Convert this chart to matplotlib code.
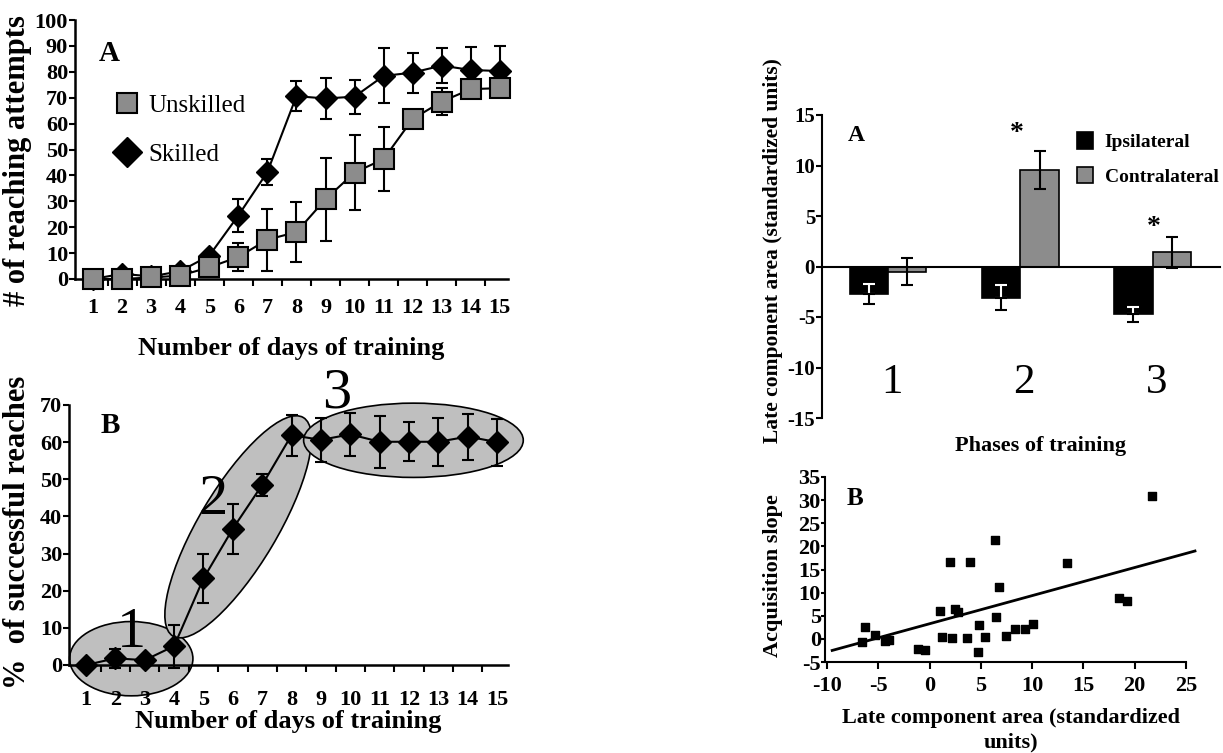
import numpy as np
import matplotlib
matplotlib.use('Agg')
import matplotlib.pyplot as plt
from matplotlib.patches import Ellipse
from matplotlib.transforms import Affine2D
from matplotlib.lines import Line2D

plt.rcParams['font.family'] = ['Liberation Serif', 'DejaVu Serif']
plt.rcParams['font.weight'] = 'bold'
plt.rcParams['axes.labelweight'] = 'bold'
plt.rcParams['axes.unicode_minus'] = False

# ---- data ----
days = np.arange(1, 16)
skilled = [0, 2, 1, 3, 9, 24.5, 41.3, 70.6, 69.7, 70.4, 78.4, 79.7, 82.4, 80.7, 80.3]
skilled_err = [0, 1, 0.5, 1, 1, 6.3, 5, 5.7, 8, 6.6, 10.6, 7.7, 6.8, 9, 9.7]
unskilled = [0, 0, 0.6, 1.3, 4.5, 8.5, 15.2, 18.1, 30.8, 41.1, 46.3, 61.8, 68.5, 73.3, 73.7]
unskilled_err = [0, 0, 0, 0, 0, 5.4, 12, 11.7, 16, 14.6, 12.3, 2, 5.3, 3.5, 2]

success = [0, 1.8, 1.3, 5.1, 23.3, 36.7, 48.5, 61.9, 60.6, 62.1, 60.1, 60.1, 60.1, 61.5, 60.0]
success_err = [0, 2.5, 1, 5.8, 6.6, 6.7, 3, 5.5, 6, 5.8, 7, 5.3, 6.4, 6.2, 6.3]

phases = [1, 2, 3]
ipsi = [-2.75, -3.1, -4.75]
ipsi_err = [1.0, 1.25, 0.7]
contra = [-0.5, 9.55, 1.4]
contra_err = [1.3, 1.9, 1.5]

late_area = [-6.6, -6.26, -5.29, -4.3, -3.95, -1.16, -0.41, 1.05, 1.24, 1.96, 2.22,
             2.45, 2.74, 3.65, 3.97, 4.75, 4.82, 5.37, 6.35, 6.44, 6.74, 7.45,
             8.3, 9.27, 10.08, 13.4, 18.5, 19.31, 21.69]
acq_slope = [-0.7, 2.6, 0.9, -0.4, -0.3, -2.1, -2.3, 6.0, 0.4, 16.7, 0.2,
             6.5, 5.8, 0.2, 16.6, -2.9, 3.0, 0.5, 21.4, 4.7, 11.2, 0.6,
             2.2, 2.2, 3.2, 16.5, 8.9, 8.1, 30.8]
fit_x = [-9.5, 25.9]
fit_y = [-2.5, 19.0]

GRAY = '#8c8c8c'
LIGHT = '#bfbfbf'
W, H = 1223, 753

fig = plt.figure(figsize=(W / 100, H / 100), dpi=100)


def px_axes(left, top, right, bottom):
    return fig.add_axes([left / W, 1 - bottom / H, (right - left) / W, (bottom - top) / H])


def day_axis(ax, xlim, pad):
    ax.set_xlim(*xlim)
    ax.set_xticks(days)
    ax.set_xticks(days[:-1] + 0.5, minor=True)
    ax.tick_params(axis='x', which='major', length=0, labelsize=16, pad=pad)
    ax.tick_params(axis='x', which='minor', length=5, width=1.5, direction='out')
    ax.tick_params(axis='y', length=4, width=1.5, labelsize=16, pad=1)
    for s in ['top', 'right']:
        ax.spines[s].set_visible(False)
    for s in ['left', 'bottom']:
        ax.spines[s].set_linewidth(1.8)


# ---- left A: reaching attempts ----
ax1 = px_axes(75, 20, 508, 279)
ax1.errorbar(days, unskilled, yerr=unskilled_err, color='black', lw=1.5, capsize=4,
             capthick=1.5, marker='s', ms=15, mfc=GRAY, mec='black', mew=1.5,
             clip_on=False, zorder=3)
ax1.errorbar(days, skilled, yerr=skilled_err, color='black', lw=1.5, capsize=4,
             capthick=1.5, marker='D', ms=11, mfc='black', mec='black',
             clip_on=False, zorder=2)
ax1.set_ylim(0, 100)
ax1.set_yticks(range(0, 101, 10))
day_axis(ax1, (0.38, 15.28), 14)
ax1.set_ylabel('# of reaching attempts', fontsize=22)
ax1.yaxis.set_label_coords(-0.099, 0.456)
ax1.set_xlabel('Number of days of training', fontsize=19, labelpad=13)
ax1.text(1.55, 87, 'A', fontsize=21, ha='center', va='center')
handles = [Line2D([], [], ls='', marker='s', ms=15, mfc=GRAY, mec='black', mew=1.5),
           Line2D([], [], ls='', marker='D', ms=15, mfc='black', mec='black')]
ax1.legend(handles, ['Unskilled', 'Skilled'], loc='upper left',
           bbox_to_anchor=(0.04, 0.80), frameon=False,
           prop={'weight': 'normal', 'size': 18}, handlelength=1.0,
           handletextpad=0.35, labelspacing=1.05)

# ---- left B: successful reaches ----
ax2 = px_axes(69, 405, 508, 665)
ax2.set_ylim(0, 70)
ax2.set_yticks(range(0, 71, 10))
day_axis(ax2, (0.42, 15.37), 18)

# phase ellipses; the tilted one is drawn where one day equals 7.9 y-units on screen
xs = 7.9
tr = Affine2D().scale(1 / xs, 1) + ax2.transData
ax2.add_patch(Ellipse((2.54, 1.7), 4.2, 20, fc=LIGHT, ec='black', lw=1.2,
                      zorder=0, clip_on=False))
ax2.add_patch(Ellipse((6.18 * xs, 37.2), 68.5, 21, angle=59.2, transform=tr,
                      fc=LIGHT, ec='black', lw=1.2, zorder=0, clip_on=False))
ax2.add_patch(Ellipse((12.15, 60.5), 7.48, 20, fc=LIGHT, ec='black', lw=1.2,
                      zorder=0, clip_on=False))

ax2.errorbar(days, success, yerr=success_err, color='black', lw=1.5, capsize=4,
             capthick=1.5, marker='D', ms=11, mfc='black', mec='black',
             clip_on=False, zorder=3)
ax2.text(2.56, 8.5, '1', fontsize=42, fontweight='normal', ha='center', va='center')
ax2.text(5.34, 44.4, '2', fontsize=42, fontweight='normal', ha='center', va='center')
ax2.text(9.55, 73, '3', fontsize=42, fontweight='normal', ha='center', va='center')
ax2.text(1.82, 64.6, 'B', fontsize=21, ha='center', va='center')
ax2.set_ylabel('%  of successful reaches', fontsize=22)
ax2.yaxis.set_label_coords(-0.084, 0.51)
ax2.set_xlabel('Number of days of training', fontsize=19, labelpad=0)

# ---- right A: bar chart ----
ax3 = px_axes(822, 115, 1220, 418)
bw = 0.29
xi = np.array(phases) - bw / 2
xc = np.array(phases) + bw / 2
ax3.bar(xi, ipsi, bw, color='black', ec='black', lw=1.2, label='Ipsilateral', zorder=2)
ax3.bar(xc, contra, bw, color=GRAY, ec='black', lw=1.2, label='Contralateral', zorder=2)
# error bars: white part inside the black bars, black part outside
ax3.errorbar(xi, ipsi, yerr=[[0] * 3, ipsi_err], fmt='none', ecolor='white',
             elinewidth=1.5, capsize=4, capthick=1.5, zorder=3)
ax3.errorbar(xi, ipsi, yerr=[ipsi_err, [0] * 3], fmt='none', ecolor='black',
             elinewidth=1.5, capsize=4, capthick=1.5, zorder=3)
ax3.errorbar(xc, contra, yerr=contra_err, fmt='none', ecolor='black',
             elinewidth=1.5, capsize=4, capthick=1.5, zorder=3)
ax3.set_xlim(0.5, 3.51)
ax3.set_ylim(-15, 15)
ax3.set_yticks(range(-15, 16, 5))
ax3.set_xticks([])
ax3.spines['bottom'].set_position(('data', 0))
ax3.spines['bottom'].set_linewidth(1.5)
ax3.spines['left'].set_linewidth(1.5)
for s in ['top', 'right']:
    ax3.spines[s].set_visible(False)
ax3.tick_params(axis='y', length=4, width=1.5, labelsize=15, pad=1)
for p in phases:
    ax3.text(p + 0.03, -11.5, str(p), fontsize=31, fontweight='normal',
             ha='center', va='center')
ax3.text(1.97, 13.2, '*', fontsize=20, ha='center', va='center')
ax3.text(3.01, 3.9, '*', fontsize=20, ha='center', va='center')
ax3.text(0.76, 12.96, 'A', fontsize=17, ha='center', va='center')
ax3.legend(loc='upper right', bbox_to_anchor=(1.04, 1.0), frameon=False,
           prop={'weight': 'bold', 'size': 14}, handlelength=0.8, handleheight=0.9,
           handletextpad=0.6, labelspacing=0.8)
ax3.set_ylabel('Late component area (standardized units)', fontsize=15.5)
ax3.yaxis.set_label_coords(-0.098, 0.554)
ax3.set_xlabel('Phases of training', fontsize=16)
ax3.xaxis.set_label_coords(0.55, -0.06)

# ---- right B: scatter ----
ax4 = px_axes(825, 477, 1196, 662)
ax4.scatter(late_area, acq_slope, marker='s', s=40, color='black', zorder=3)
ax4.plot(fit_x, fit_y, color='black', lw=2, clip_on=False)
ax4.set_xlim(-10.2, 26)
ax4.set_ylim(-5, 35)
ax4.set_xticks(range(-10, 26, 5))
ax4.set_yticks(range(-5, 36, 5))
ax4.spines['bottom'].set_bounds(-10, 25)
for s in ['top', 'right']:
    ax4.spines[s].set_visible(False)
for s in ['left', 'bottom']:
    ax4.spines[s].set_linewidth(1.5)
ax4.tick_params(length=5, width=1.5, labelsize=16, pad=5)
ax4.tick_params(axis='y', length=3, pad=0)
ax4.text(-7.24, 30.4, 'B', fontsize=18, ha='center', va='center')
ax4.set_ylabel('Acquisition slope', fontsize=16)
ax4.yaxis.set_label_coords(-0.113, 0.465)
ax4.set_xlabel('Late component area (standardized\nunits)', fontsize=16, labelpad=9,
               linespacing=1.3)

fig.savefig('out.png', dpi=100)
